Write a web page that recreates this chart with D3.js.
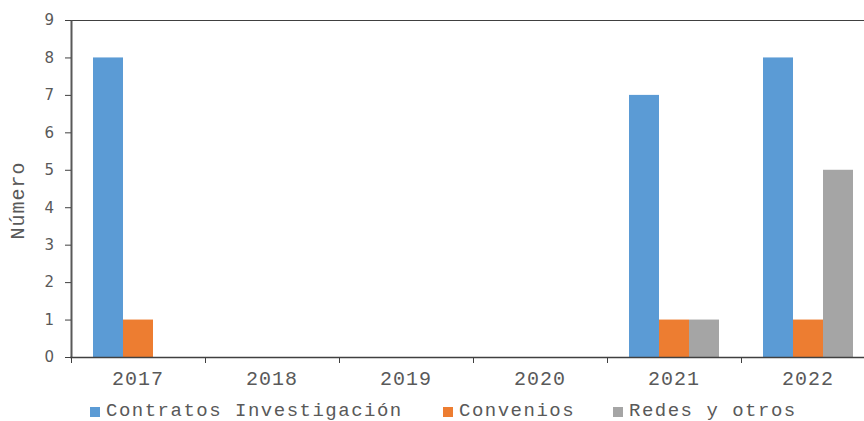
<!DOCTYPE html>
<html><head><meta charset="utf-8">
<script src="https://cdn.jsdelivr.net/npm/d3@7"></script>
<style>body{margin:0;background:#fff}svg{display:block}</style>
</head><body>
<script>
const categories = ['2017','2018','2019','2020','2021','2022'];
const seriesNames = ['Contratos Investigación','Convenios','Redes y otros'];
const contratos = [8,0,0,0,7,8];
const convenios = [1,0,0,0,1,1];
const redes = [0,0,0,0,1,5];
const yTicks = [0,1,2,3,4,5,6,7,8,9];
const colors = ['#5B9BD5','#ED7D31','#A5A5A5'];
const seriesValues = [contratos, convenios, redes];

const W = 864, H = 421;
const svg = d3.select('body').append('svg').attr('width', W).attr('height', H);
const mLeft = 71, mRight = 875, mTop = 20, mBottom = 357;

const x0 = d3.scaleBand().domain(categories).range([mLeft, mRight]).paddingInner(0).paddingOuter(0);
const x1 = d3.scaleBand().domain(seriesNames).range([0, x0.bandwidth()]).paddingInner(0).paddingOuter((x0.bandwidth()/30 - 3)/2);
const y = d3.scaleLinear().domain([0, 9]).range([mBottom, mTop]);

const mono = "'Liberation Mono','Courier New',monospace";
const sans = "'DejaVu Sans',Verdana,sans-serif";
const txt = '#595959';

// bars
const rows = categories.map((c, i) => ({c, vals: seriesNames.map((s, k) => ({s, v: seriesValues[k][i], k}))}));
const g = svg.append('g');
g.selectAll('g.cat').data(rows).join('g').attr('class','cat')
  .attr('transform', d => `translate(${x0(d.c)},0)`)
  .selectAll('rect').data(d => d.vals.filter(v => v.v > 0)).join('rect')
  .attr('x', d => x1(d.s)).attr('width', x1.bandwidth())
  .attr('y', d => y(d.v)).attr('height', d => y(0) - y(d.v))
  .attr('fill', d => colors[d.k]);

// top border
svg.append('line').attr('x1', mLeft).attr('x2', W).attr('y1', mTop + 0.5).attr('y2', mTop + 0.5)
  .attr('stroke', '#404040').attr('stroke-width', 1);

// y axis
const yAxis = svg.append('g').attr('transform', `translate(${mLeft},0)`)
  .call(d3.axisLeft(y).tickValues(yTicks).tickSize(6).tickPadding(11).tickSizeOuter(0));
yAxis.select('.domain').attr('stroke', '#595959').attr('stroke-width', 2);
yAxis.selectAll('.tick line').attr('stroke', '#404040');
yAxis.selectAll('.tick text').attr('fill', txt).style('font-family', sans).style('font-size', '15px');

// x axis
const xAxis = svg.append('g').attr('transform', `translate(0,${mBottom})`)
  .call(d3.axisBottom(x0).tickSize(0).tickPadding(14));
xAxis.select('.domain').remove();
svg.append('line').attr('x1', mLeft - 1).attr('x2', W).attr('y1', mBottom + 0.5).attr('y2', mBottom + 0.5)
  .attr('stroke', '#404040').attr('stroke-width', 1.5);
const bounds = categories.map(c => x0(c));
svg.selectAll('line.sep').data(bounds).join('line').attr('class','sep')
  .attr('x1', d => Math.round(d) + 0.5).attr('x2', d => Math.round(d) + 0.5)
  .attr('y1', mBottom).attr('y2', mBottom + 6).attr('stroke', '#404040');
xAxis.selectAll('.tick text').attr('fill', txt).style('font-family', mono).style('font-size', '20px')
  .style('letter-spacing', '1px');

// y label
svg.append('text').attr('transform', `translate(24,${(mTop + mBottom) / 2 + 12}) rotate(-90)`)
  .attr('text-anchor', 'middle').attr('fill', txt)
  .style('font-family', mono).style('font-size', '20px').style('letter-spacing', '1px').text('Número');

// legend
const legendX = [90, 443, 613];
const lg = svg.selectAll('g.leg').data(seriesNames).join('g').attr('class','leg')
  .attr('transform', (d, i) => `translate(${legendX[i]},0)`);
lg.append('rect').attr('x', 0).attr('y', 407).attr('width', 10).attr('height', 10).attr('fill', (d, i) => colors[i]);
lg.append('text').attr('x', 16).attr('y', 416).attr('fill', txt)
  .style('font-family', mono).style('font-size', '19px').style('letter-spacing', '1.5px').text(d => d);
</script>
</body></html>
